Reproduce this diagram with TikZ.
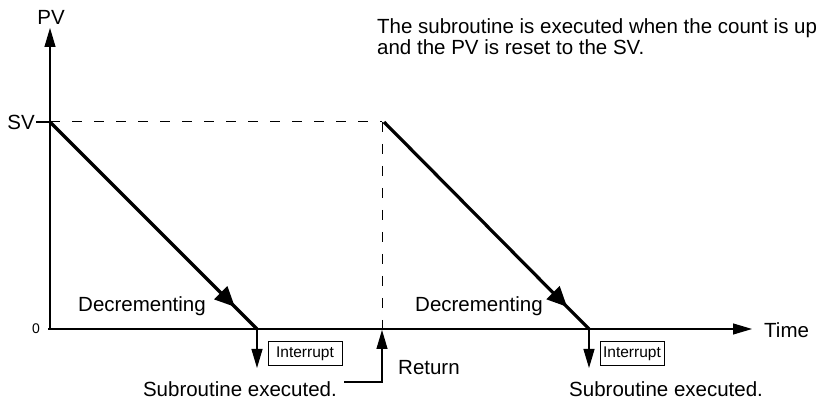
\documentclass[tikz,border=0pt]{standalone}
\usepackage{fontspec}
\setmainfont{Liberation Sans}
\usetikzlibrary{arrows.meta,decorations.markings}
\tikzset{
  axisline/.style={line width=1.2pt, -{Triangle[length=19pt, width=11pt]}},
  plainline/.style={line width=1.2pt},
  rampline/.style={line width=3.2pt, postaction={decorate},
    decoration={markings, mark=at position 0.893 with
      {\arrow{Triangle[length=20pt, width=18pt]}}}},
  dashline/.style={line width=1pt, dash pattern=on 10pt off 12pt},
  intbox/.style={draw, line width=1pt, minimum height=24pt, inner sep=2pt,
    font=\fontsize{15.5}{16}\selectfont},
  lbl/.style={inner sep=0pt, font=\fontsize{20.5}{22}\selectfont},
}

\begin{document}
\begin{tikzpicture}[x=1pt, y=-1pt]
  \useasboundingbox (0,0) rectangle (831,403);

  %% ---- axes ----
  \coordinate (O)     at (50, 329);
  \coordinate (ytop)  at (50, 28);
  \coordinate (xend)  at (752, 329);
  \coordinate (xbeg)  at (48, 329);
  \coordinate (svtic) at (36, 122);
  \coordinate (sv)    at (50, 122);

  \draw[axisline] (O) -- (ytop);
  \draw[axisline] (xbeg) -- (xend);
  \draw[plainline] (svtic) -- (sv);

  \node[lbl, anchor=base] (pv) at (51, 25) {PV};
  \node[lbl, anchor=base east] (svlbl) at (35, 130) {SV};
  \node[inner sep=0pt, anchor=east, font=\fontsize{14}{15}\selectfont] (zero) at (40, 329) {0};
  \node[lbl, anchor=base west] (time) at (764, 338) {Time};

  %% ---- count ramps ----
  \coordinate (end1)  at (257, 329);
  \coordinate (peak2) at (384, 122);
  \coordinate (ret)   at (382, 122);
  \coordinate (retb)  at (382, 329);
  \coordinate (end2)  at (589, 329);

  \draw[dashline] (sv) -- (ret);
  \draw[dashline] (ret) -- (retb);

  \draw[rampline] (sv) -- (end1);
  \draw[rampline] (peak2) -- (end2);

  \node[lbl, anchor=base west] (dec1) at (78, 312) {Decrementing};
  \node[lbl, anchor=base west] (dec2) at (415, 312) {Decrementing};

  %% ---- interrupts and return ----
  \coordinate (int1) at (257, 368);
  \coordinate (int2) at (589, 368);
  \coordinate (retcorner) at (382, 382);
  \coordinate (retfoot)   at (344, 382);

  \draw[axisline] (end1) -- (int1);
  \draw[axisline] (end2) -- (int2);
  \draw[axisline] (retfoot) -- (retcorner) -- ([yshift=-1pt]retb);

  \node[intbox, minimum width=74pt] (box1) at (305, 354) {Interrupt};
  \node[intbox, minimum width=64pt] (box2) at (632, 354) {Interrupt};

  \node[lbl, anchor=base east] (sub1) at (337, 397) {Subroutine executed.};
  \node[lbl, anchor=base west] (sub2) at (569, 397) {Subroutine executed.};
  \node[lbl, anchor=base west] (retlbl) at (398, 375) {Return};

  %% ---- note ----
  \node[lbl, anchor=base west] (note1) at (377, 34)
    {The subroutine is executed when the count is up};
  \node[lbl, anchor=base west] (note2) at (377, 55)
    {and the PV is reset to the SV.};
\end{tikzpicture}
\end{document}
